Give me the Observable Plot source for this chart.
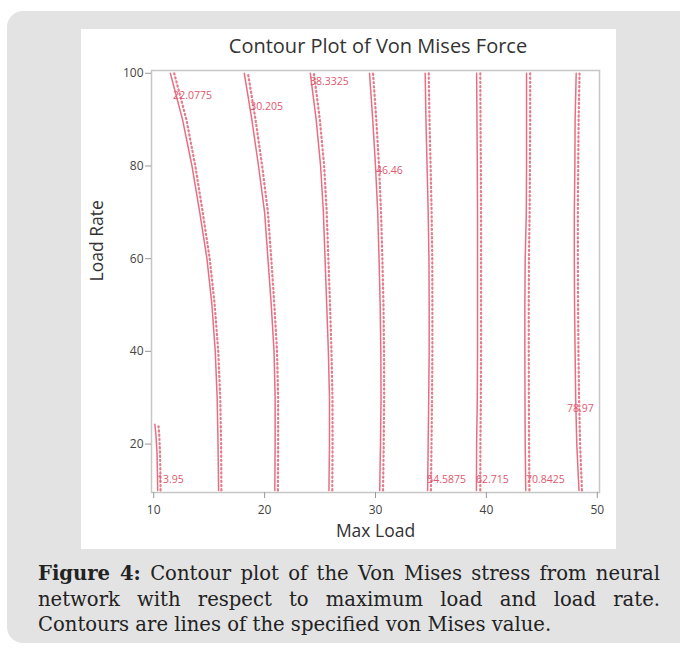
<!DOCTYPE html>
<html><head><meta charset="utf-8">
<script src="https://cdn.jsdelivr.net/npm/d3@7"></script>
<script src="https://cdn.jsdelivr.net/npm/@observablehq/plot@0.6"></script>
<style>
html,body{margin:0;padding:0;background:#fff;width:680px;height:653px;overflow:hidden;position:relative;}
#panel{position:absolute;left:7px;top:11px;width:720px;height:632px;background:#e3e3e3;border-radius:16px;}
#card{position:absolute;left:81px;top:29px;width:535px;height:520px;background:#fff;}
#chart{position:absolute;left:81px;top:29px;}
#title{position:absolute;left:154px;top:33px;width:448px;text-align:center;font-family:"Open Sans",sans-serif;font-size:20px;color:#333;line-height:26px;}
#caption{position:absolute;left:38px;top:561px;width:622px;font-family:"DejaVu Serif",serif;font-size:19.6px;line-height:25.5px;color:#222;}
#caption div{text-align:justify;white-space:nowrap;}
#caption .j{text-align-last:justify;}
</style></head>
<body>
<div id="panel"></div>
<div id="card"></div>
<div id="chart"></div>
<div id="title">Contour Plot of Von Mises Force</div>
<div id="caption">
<div class="j"><b>Figure 4:</b> Contour plot of the Von Mises stress from neural</div>
<div class="j">network with respect to maximum load and load rate.</div>
<div>Contours are lines of the specified von Mises value.</div>
</div>
<script>
// contour levels
const levels = [13.95, 22.0775, 30.205, 38.3325, 46.46, 54.5875, 62.715, 70.8425, 78.97];
// load rate values at which contour positions were read
const rateGrid = [10, 20, 30, 40, 50, 60, 70, 80, 90, 100];
const rateLow = [10, 14, 18, 22, 24.3];
// solid contour: max load at each load rate
const solid13 = [10.36, 10.33, 10.3, 10.2, 10.1];
const solid22 = [15.85, 15.8, 15.72, 15.55, 15.25, 14.8, 14.15, 13.45, 12.6, 11.5];
const solid30 = [20.92, 20.95, 20.95, 20.85, 20.6, 20.3, 20.0, 19.45, 18.85, 18.17];
const solid38 = [25.8, 25.85, 25.85, 25.75, 25.6, 25.45, 25.3, 25.05, 24.65, 24.12];
const solid46 = [30.38, 30.45, 30.5, 30.48, 30.42, 30.32, 30.2, 30.0, 29.75, 29.46];
const solid54 = [34.7, 34.75, 34.8, 34.84, 34.84, 34.82, 34.75, 34.65, 34.55, 34.48];
const solid62 = [39.1, 39.12, 39.18, 39.2, 39.2, 39.2, 39.2, 39.18, 39.15, 39.12];
const solid70 = [43.55, 43.5, 43.48, 43.47, 43.47, 43.5, 43.6, 43.62, 43.62, 43.62];
const solid78 = [48.35, 48.15, 48.05, 48.0, 47.95, 47.93, 47.93, 47.98, 48.0, 48.1];
// dotted (comparison) contour: max load at each load rate
const dot13 = [10.62, 10.6, 10.57, 10.5, 10.42];
const dot22 = [16.1, 16.08, 16.0, 15.82, 15.5, 15.05, 14.42, 13.75, 12.95, 11.85];
const dot30 = [21.2, 21.22, 21.22, 21.12, 20.88, 20.6, 20.3, 19.78, 19.18, 18.5];
const dot38 = [26.1, 26.13, 26.12, 26.03, 25.9, 25.75, 25.6, 25.37, 24.98, 24.45];
const dot46 = [30.68, 30.74, 30.78, 30.77, 30.72, 30.62, 30.5, 30.32, 30.07, 29.78];
const dot54 = [35.0, 35.05, 35.1, 35.13, 35.13, 35.12, 35.06, 34.97, 34.87, 34.8];
const dot62 = [39.45, 39.46, 39.5, 39.52, 39.52, 39.52, 39.52, 39.5, 39.47, 39.45];
const dot70 = [43.88, 43.85, 43.83, 43.82, 43.82, 43.84, 43.9, 43.93, 43.95, 43.95];
const dot78 = [48.62, 48.45, 48.36, 48.3, 48.27, 48.25, 48.25, 48.28, 48.32, 48.4];
// contour labels
const labelText = ["13.95", "22.0775", "30.205", "38.3325", "46.46", "54.5875", "62.715", "70.8425", "78.97"];
const labelX = [10.3, 11.75, 18.7, 24.1, 30.05, 34.66, 39.07, 43.58, 47.26];
const labelY = [12.3, 95.2, 92.8, 98.2, 79.0, 12.3, 12.3, 12.3, 27.6];
// axis ticks
const xTicks = [10, 20, 30, 40, 50];
const yTicks = [20, 40, 60, 80, 100];

const solidSets = [solid13, solid22, solid30, solid38, solid46, solid54, solid62, solid70, solid78];
const dotSets = [dot13, dot22, dot30, dot38, dot46, dot54, dot62, dot70, dot78];
function rows(sets) {
  const out = [];
  sets.forEach((xs, i) => {
    const ys = i === 0 ? rateLow : rateGrid;
    xs.forEach((x, j) => out.push({level: levels[i], x, y: ys[j]}));
  });
  return out;
}
const solidRows = rows(solidSets);
const dotRows = rows(dotSets);
const labels = labelText.map((t, i) => ({text: t, x: labelX[i], y: labelY[i]}));

const chart = Plot.plot({
  width: 535, height: 520,
  marginLeft: 70, marginRight: 17, marginTop: 41, marginBottom: 57,
  style: {fontFamily: "Open Sans, sans-serif", background: "transparent", overflow: "visible"},
  x: {domain: [9.8, 50.2], axis: null},
  y: {domain: [9.55, 100.6], axis: null},
  marks: [
    Plot.frame({stroke: "#c6c6c6", strokeWidth: 1.5}),
    Plot.line(dotRows, {x: "x", y: "y", z: "level", stroke: "#e57b8b", strokeWidth: 2.2, strokeDasharray: "1.2,3"}),
    Plot.line(solidRows, {x: "x", y: "y", z: "level", stroke: "#e76f82", strokeWidth: 1.5}),
    Plot.text(labels, {x: "x", y: "y", text: "text", textAnchor: "start", fontSize: 10.5, fill: "#e0586e"}),
    Plot.axisX(xTicks, {tickSize: 6, tickPadding: 7, fontSize: 12, stroke: "#999", fill: "#444", label: null}),
    Plot.axisY(yTicks, {tickSize: 6, tickPadding: 2, fontSize: 12, stroke: "#999", fill: "#444", label: null}),
    Plot.text(["Max Load"], {frameAnchor: "bottom", dy: 44, fontSize: 17.5, fill: "#333"}),
    Plot.text(["Load Rate"], {frameAnchor: "left", dx: -54, rotate: -90, fontSize: 17.5, fill: "#333"})
  ]
});
document.getElementById("chart").appendChild(chart);
</script>
</body></html>
